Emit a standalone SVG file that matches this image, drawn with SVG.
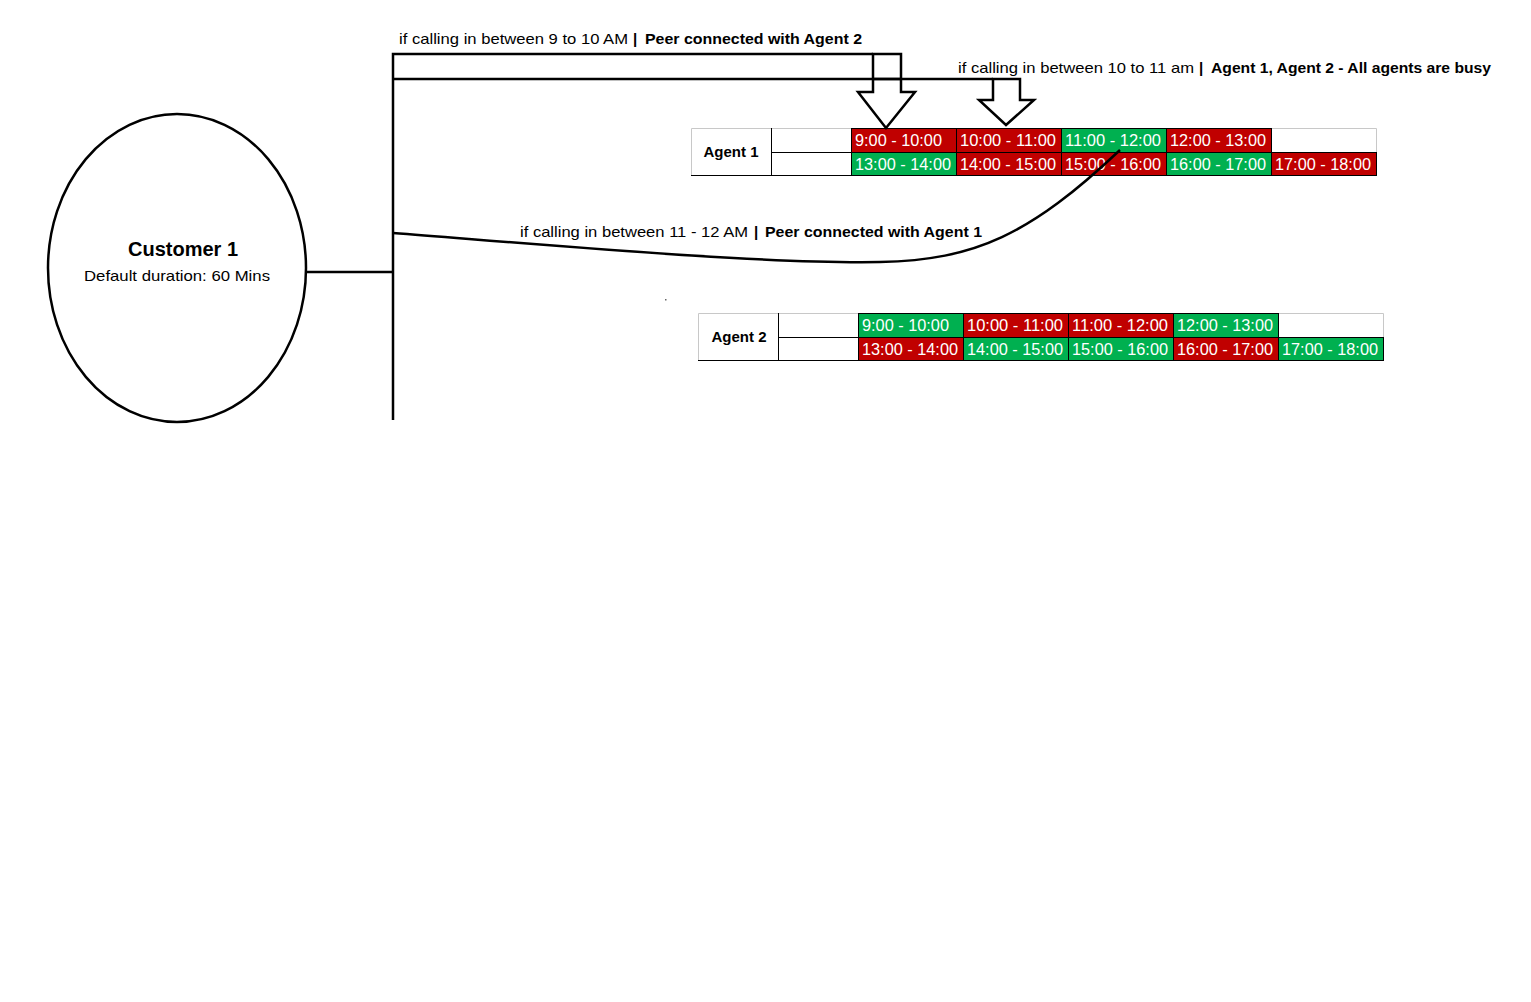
<svg xmlns="http://www.w3.org/2000/svg" width="1531" height="1002" viewBox="0 0 1531 1002">
<style>
text{font-family:"Liberation Sans",Arial,sans-serif;fill:#000}
.lbl{font-size:15px}
.b{font-weight:bold}
.cell{font-size:16px;fill:#fff}
.r{fill:#C00000}
.g{fill:#00B050}
.w{fill:#fff}
.conn{fill:none;stroke:#000;stroke-width:2.5}
.grid{stroke:#000;stroke-width:1;fill:none}
.lgrid{stroke:#c8c8c8;stroke-width:1;fill:none}
</style>
<rect width="1531" height="1002" fill="#fff"/>

<g id="customer1">
<ellipse cx="177" cy="268" rx="129" ry="154" fill="#fff" stroke="#000" stroke-width="2.5"/>
<text x="183" y="256" text-anchor="middle" class="b" font-size="20">Customer 1</text>
<text x="177" y="281" text-anchor="middle" font-size="15" textLength="186" lengthAdjust="spacingAndGlyphs">Default duration: 60 Mins</text>
</g>

<g id="label-9-10">
<text class="lbl" x="399" y="44" textLength="229" lengthAdjust="spacingAndGlyphs">if calling in between 9 to 10 AM</text>
<text class="lbl b" x="633" y="44">|</text>
<text class="lbl b" x="645" y="44" textLength="217" lengthAdjust="spacingAndGlyphs">Peer connected with Agent 2</text>
</g>
<g id="label-10-11">
<text class="lbl" x="958" y="73" textLength="236" lengthAdjust="spacingAndGlyphs">if calling in between 10 to 11 am</text>
<text class="lbl b" x="1199" y="73">|</text>
<text class="lbl b" x="1211" y="73" textLength="280" lengthAdjust="spacingAndGlyphs">Agent 1, Agent 2 - All agents are busy</text>
</g>
<g id="label-11-12">
<text class="lbl" x="520" y="237" textLength="228" lengthAdjust="spacingAndGlyphs">if calling in between 11 - 12 AM</text>
<text class="lbl b" x="754" y="237">|</text>
<text class="lbl b" x="765" y="237" textLength="217" lengthAdjust="spacingAndGlyphs">Peer connected with Agent 1</text>
</g>

<g id="agent1">
<rect x="691" y="128" width="686" height="48" class="w"/>
<rect class="r" x="851" y="128" width="105" height="24"/>
<rect class="r" x="956" y="128" width="105" height="24"/>
<rect class="g" x="1061" y="128" width="105" height="24"/>
<rect class="r" x="1166" y="128" width="105" height="24"/>
<rect class="g" x="851" y="152" width="105" height="24"/>
<rect class="r" x="956" y="152" width="105" height="24"/>
<rect class="r" x="1061" y="152" width="105" height="24"/>
<rect class="g" x="1166" y="152" width="105" height="24"/>
<rect class="r" x="1271" y="152" width="106" height="24"/>
<path class="lgrid" d="M691.5 176 V128.5 H1376.5 V152"/>
<path class="grid" d="M771.5 128 V176 M771 152.5 H1377 M851.5 128 V176 M956.5 128 V176 M1061.5 128 V176 M1166.5 128 V176 M1271.5 128 V176 M1376.5 152 V176 M851 128.5 H1271 M691 175.5 H1377"/>
<text x="731" y="157" text-anchor="middle" class="b" font-size="15">Agent 1</text>
<text class="cell" x="855" y="146" textLength="87" lengthAdjust="spacingAndGlyphs">9:00 - 10:00</text>
<text class="cell" x="960" y="146" textLength="96" lengthAdjust="spacingAndGlyphs">10:00 - 11:00</text>
<text class="cell" x="1065" y="146" textLength="96" lengthAdjust="spacingAndGlyphs">11:00 - 12:00</text>
<text class="cell" x="1170" y="146" textLength="96" lengthAdjust="spacingAndGlyphs">12:00 - 13:00</text>
<text class="cell" x="855" y="170" textLength="96" lengthAdjust="spacingAndGlyphs">13:00 - 14:00</text>
<text class="cell" x="960" y="170" textLength="96" lengthAdjust="spacingAndGlyphs">14:00 - 15:00</text>
<text class="cell" x="1065" y="170" textLength="96" lengthAdjust="spacingAndGlyphs">15:00 - 16:00</text>
<text class="cell" x="1170" y="170" textLength="96" lengthAdjust="spacingAndGlyphs">16:00 - 17:00</text>
<text class="cell" x="1275" y="170" textLength="96" lengthAdjust="spacingAndGlyphs">17:00 - 18:00</text>
</g>

<g id="agent2">
<rect x="698" y="313" width="686" height="48" class="w"/>
<rect class="g" x="858" y="313" width="105" height="24"/>
<rect class="r" x="963" y="313" width="105" height="24"/>
<rect class="r" x="1068" y="313" width="105" height="24"/>
<rect class="g" x="1173" y="313" width="105" height="24"/>
<rect class="r" x="858" y="337" width="105" height="24"/>
<rect class="g" x="963" y="337" width="105" height="24"/>
<rect class="g" x="1068" y="337" width="105" height="24"/>
<rect class="r" x="1173" y="337" width="105" height="24"/>
<rect class="g" x="1278" y="337" width="106" height="24"/>
<path class="lgrid" d="M698.5 361 V313.5 H1383.5 V337"/>
<path class="grid" d="M778.5 313 V361 M778 337.5 H1384 M858.5 313 V361 M963.5 313 V361 M1068.5 313 V361 M1173.5 313 V361 M1278.5 313 V361 M1383.5 337 V361 M858 313.5 H1278 M698 360.5 H1384"/>
<text x="739" y="342" text-anchor="middle" class="b" font-size="15">Agent 2</text>
<text class="cell" x="862" y="331" textLength="87" lengthAdjust="spacingAndGlyphs">9:00 - 10:00</text>
<text class="cell" x="967" y="331" textLength="96" lengthAdjust="spacingAndGlyphs">10:00 - 11:00</text>
<text class="cell" x="1072" y="331" textLength="96" lengthAdjust="spacingAndGlyphs">11:00 - 12:00</text>
<text class="cell" x="1177" y="331" textLength="96" lengthAdjust="spacingAndGlyphs">12:00 - 13:00</text>
<text class="cell" x="862" y="355" textLength="96" lengthAdjust="spacingAndGlyphs">13:00 - 14:00</text>
<text class="cell" x="967" y="355" textLength="96" lengthAdjust="spacingAndGlyphs">14:00 - 15:00</text>
<text class="cell" x="1072" y="355" textLength="96" lengthAdjust="spacingAndGlyphs">15:00 - 16:00</text>
<text class="cell" x="1177" y="355" textLength="96" lengthAdjust="spacingAndGlyphs">16:00 - 17:00</text>
<text class="cell" x="1282" y="355" textLength="96" lengthAdjust="spacingAndGlyphs">17:00 - 18:00</text>
</g>

<g id="connectors">
<path class="conn" d="M306 272 H393"/>
<path class="conn" d="M393 420 V54 H873"/>
<path class="conn" d="M393 79 H993"/>
<path class="conn" d="M873 54 V92 H858 L886 128 L915 92 H901 V54 Z" fill="#fff"/>
<path class="conn" d="M873 79 H901"/>
<path class="conn" d="M993 79 V100 H979 L1006 125 L1034 100 H1020 V79 Z"/>
<path class="conn" d="M393 233 C560 246 760 264 880 262 C975 260 1030 235 1120 150"/>
<rect x="665" y="299" width="1.5" height="1.5" fill="#666"/>
</g>
</svg>
